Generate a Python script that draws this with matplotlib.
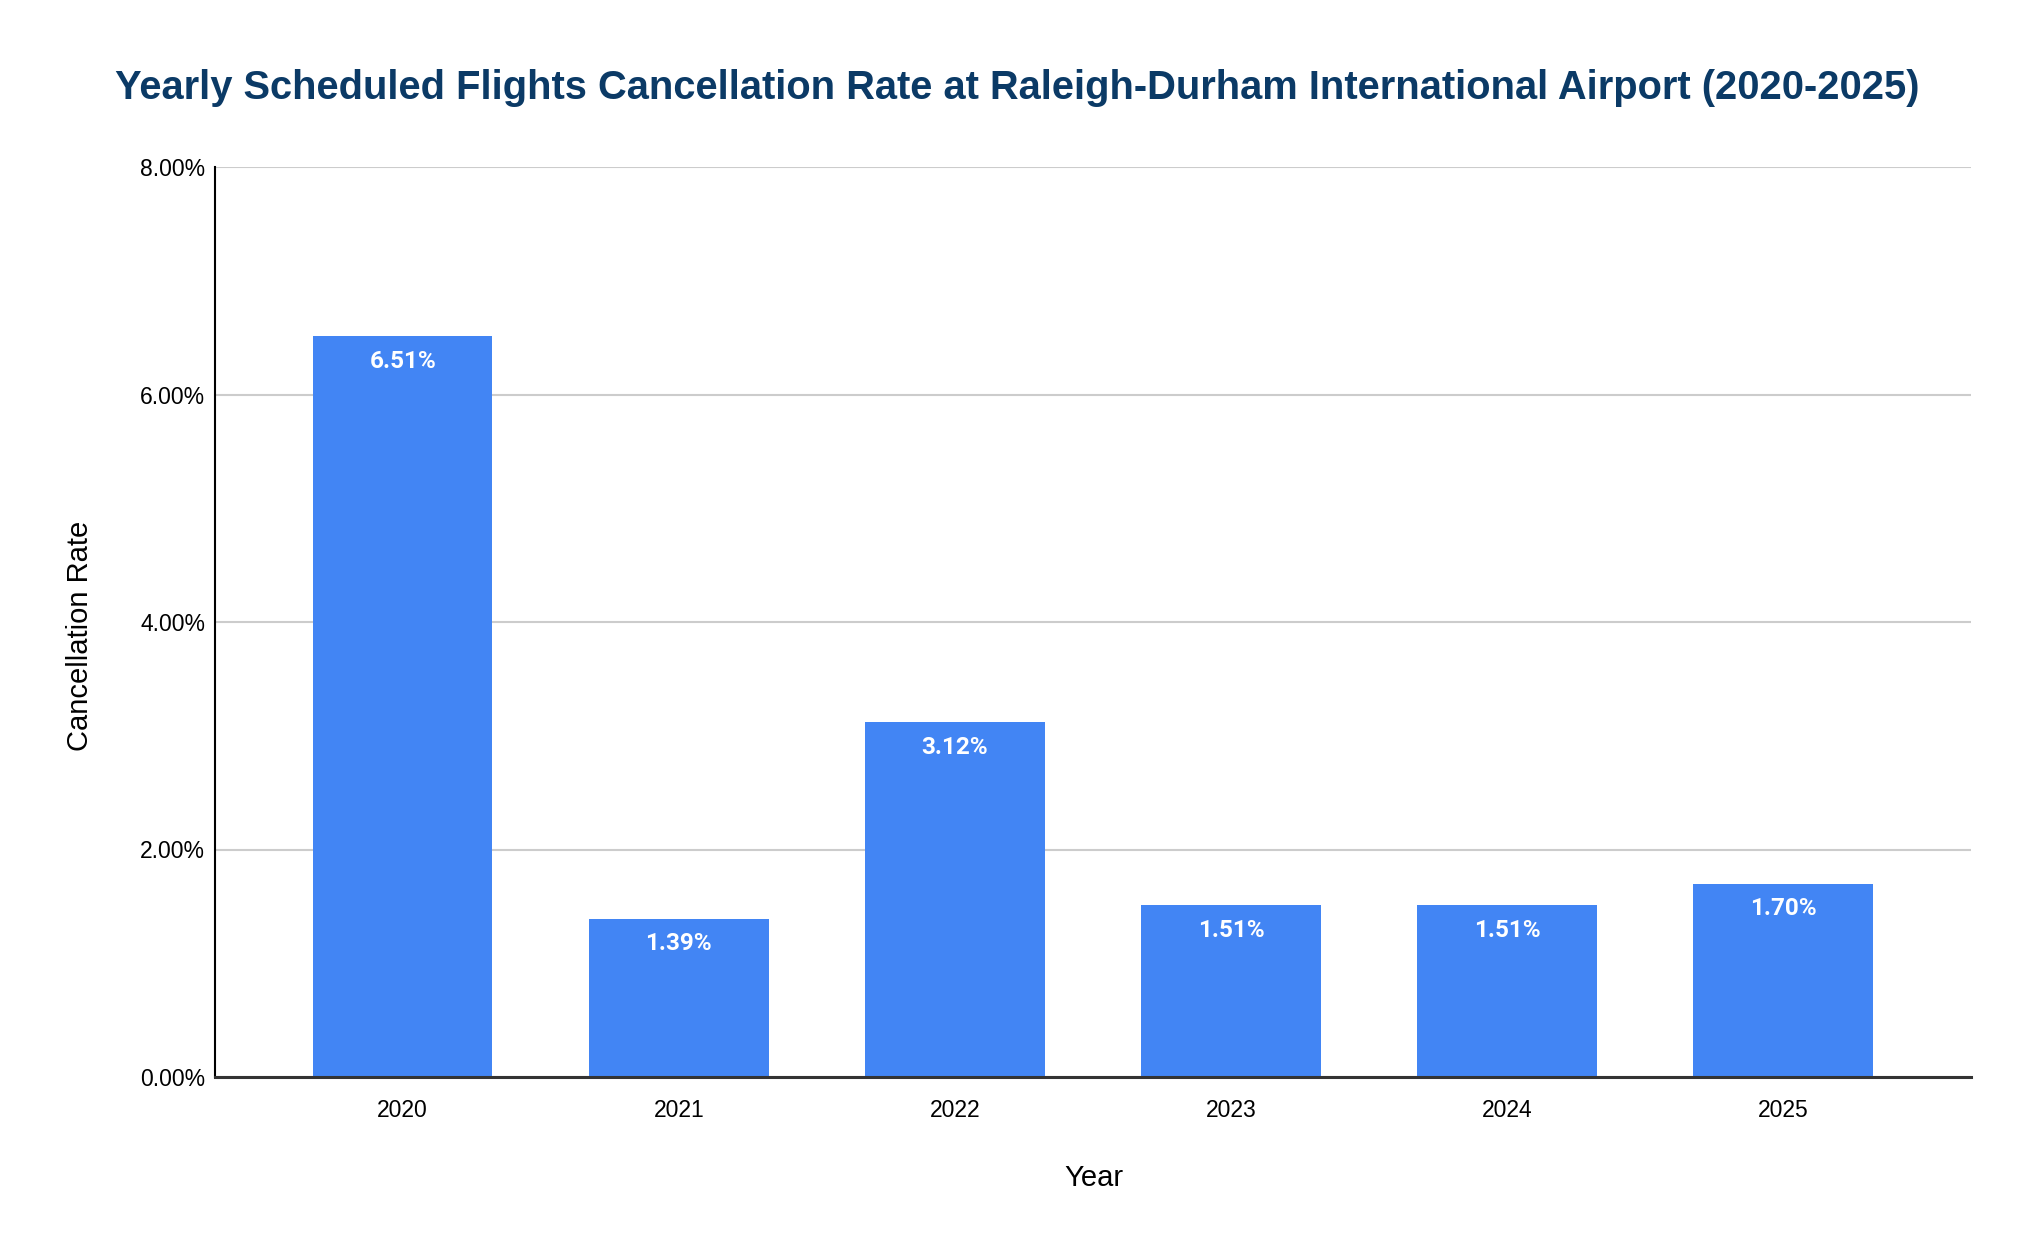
import matplotlib
matplotlib.use("Agg")
import matplotlib.pyplot as plt
from matplotlib.ticker import FuncFormatter

years = ["2020", "2021", "2022", "2023", "2024", "2025"]
rates = [6.51, 1.39, 3.12, 1.51, 1.51, 1.70]
y_ticks = [0, 2, 4, 6, 8]

title = "Yearly Scheduled Flights Cancellation Rate at Raleigh-Durham International Airport (2020-2025)"
x_label = "Year"
y_label = "Cancellation Rate"

plt.rcParams['font.family'] = ['Liberation Sans', 'DejaVu Sans']

fig = plt.figure(figsize=(20.24, 12.5), dpi=100)
ax = fig.add_axes([0.1062, 0.1384, 0.8676, 0.728])

x = list(range(len(years)))
ax.bar(x, rates, width=0.65, color="#4285F4", zorder=3)

for xi, v in zip(x, rates):
    ax.annotate(f"{v:.2f}%", xy=(xi, v), xytext=(0, -25), textcoords="offset pixels",
                ha="center", va="center", color="white", fontsize=17.5,
                fontweight="bold", family=["Roboto", "DejaVu Sans"], zorder=4)

ax.set_xlim(-0.68, 5.68)
ax.set_ylim(0, 8)
ax.set_yticks(y_ticks)
ax.yaxis.set_major_formatter(FuncFormatter(lambda v, p: f"{v:.2f}%"))
ax.set_xticks(x)
ax.set_xticklabels(years)

ax.grid(axis="y", color="#cccccc", linewidth=1.5, zorder=0)
ax.set_axisbelow(True)
for s in ["top", "right"]:
    ax.spines[s].set_visible(False)
ax.spines["left"].set_color("black")
ax.spines["left"].set_linewidth(1.5)
ax.spines["bottom"].set_color("#333333")
ax.spines["bottom"].set_linewidth(2.2)
ax.spines["bottom"].set_zorder(5)

ax.tick_params(axis="both", length=0, labelsize=16.5, colors="black")
ax.tick_params(axis="y", pad=7)
ax.tick_params(axis="x", pad=16)

fig.text(0.5025, 0.9296, title, ha="center", va="center", fontsize=28.7,
         fontweight="bold", color="#0b3a66")
fig.text(0.5405, 0.0576, x_label, ha="center", va="center", fontsize=21, color="black")
fig.text(0.0395, 0.491, y_label, ha="center", va="center", fontsize=21,
         rotation=90, color="black")

fig.savefig("out.png", dpi=100, facecolor="white")
